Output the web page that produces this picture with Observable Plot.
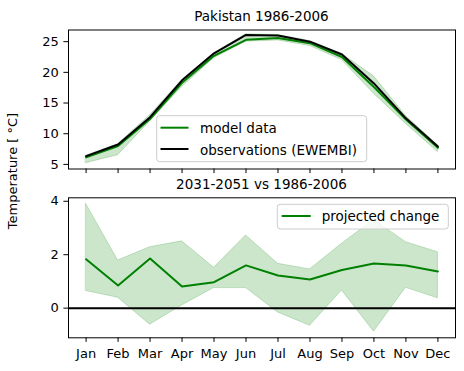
<!DOCTYPE html>
<html><head><meta charset="utf-8">
<script src="https://cdn.jsdelivr.net/npm/d3@7"></script>
<script src="https://cdn.jsdelivr.net/npm/@observablehq/plot@0.6"></script>
<style>
body{margin:0;background:#fff;}
#fig{position:relative;width:464px;height:371px;overflow:hidden;background:#fff;font-family:"DejaVu Sans",sans-serif;color:#000}
#fig > svg{display:block}
#overlay{position:absolute;left:0;top:0;pointer-events:none}
</style></head><body><div id="fig"></div>
<script>
const months = ["Jan","Feb","Mar","Apr","May","Jun","Jul","Aug","Sep","Oct","Nov","Dec"];
// top panel: Pakistan 1986-2006 (°C)
const obs      = [6.35, 8.25, 12.7, 18.7, 23.1, 26.1, 26.0, 25.0, 22.9, 18.2, 12.5, 7.9];
const model    = [6.15, 8.0, 12.4, 18.3, 22.7, 25.3, 25.6, 24.75, 22.5, 17.6, 12.3, 7.7];
const modelLo  = [5.2, 6.5, 12.0, 17.6, 22.3, 25.0, 25.2, 24.3, 22.0, 16.5, 11.6, 7.0];
const modelHi  = [6.4, 8.3, 13.0, 18.7, 23.1, 26.2, 26.1, 25.1, 23.0, 19.35, 12.9, 8.1];
// bottom panel: 2031-2051 vs 1986-2006
const change   = [1.83, 0.85, 1.86, 0.81, 0.97, 1.60, 1.22, 1.07, 1.43, 1.67, 1.60, 1.37];
const changeLo = [0.64, 0.39, -0.62, 0.10, 0.75, 0.75, -0.16, -0.66, 0.66, -0.88, 0.76, 0.37];
const changeHi = [3.90, 1.78, 2.28, 2.50, 1.51, 2.72, 1.66, 1.45, 2.41, 3.30, 2.47, 2.09];
const topTicks = [5, 10, 15, 20, 25];
const bottomTicks = [0, 2, 4];

const topData = months.map((m, i) => ({month: m, obs: obs[i], model: model[i], lo: modelLo[i], hi: modelHi[i]}));
const botData = months.map((m, i) => ({month: m, change: change[i], lo: changeLo[i], hi: changeHi[i]}));

const style = {fontSize: "13px", fontFamily: "DejaVu Sans", background: "transparent", color: "black", overflow: "visible"};

const p1 = Plot.plot({
  width: 464, height: 178,
  marginLeft: 68, marginRight: 9, marginTop: 29.5, marginBottom: 9.5,
  style,
  x: {type: "point", domain: months, padding: 0.55, round: false, tickSize: 4.6, tickFormat: () => "", label: null},
  y: {domain: [4.25, 26.9], ticks: topTicks, tickFormat: d => String(d), tickSize: 4.6, tickPadding: 5, label: null},
  marks: [
    Plot.areaY(topData, {x: "month", y1: "lo", y2: "hi", fill: "green", fillOpacity: 0.2, stroke: "green", strokeOpacity: 0.2}),
    Plot.lineY(topData, {x: "month", y: "model", stroke: "green", strokeWidth: 2}),
    Plot.lineY(topData, {x: "month", y: "obs", stroke: "black", strokeWidth: 2}),
    Plot.frame({stroke: "black", strokeWidth: 1})
  ]
});

const p2 = Plot.plot({
  width: 464, height: 193,
  marginLeft: 68, marginRight: 9, marginTop: 19.3, marginBottom: 33.7,
  style,
  x: {type: "point", domain: months, padding: 0.55, round: false, tickSize: 4.6, tickPadding: 6.6, label: null},
  y: {domain: [-1.11, 4.13], ticks: bottomTicks, tickFormat: d => String(d), tickSize: 4.6, tickPadding: 5, label: null},
  marks: [
    Plot.areaY(botData, {x: "month", y1: "lo", y2: "hi", fill: "green", fillOpacity: 0.2, stroke: "green", strokeOpacity: 0.2}),
    Plot.lineY(botData, {x: "month", y: "change", stroke: "green", strokeWidth: 2}),
    Plot.ruleY([0], {stroke: "black", strokeWidth: 2}),
    Plot.frame({stroke: "black", strokeWidth: 1})
  ]
});

const fig = document.getElementById("fig");
fig.appendChild(p1);
fig.appendChild(p2);

// titles, y label and legends
const NS = "http://www.w3.org/2000/svg";
const ov = document.createElementNS(NS, "svg");
ov.setAttribute("id", "overlay");
ov.setAttribute("width", 464);
ov.setAttribute("height", 371);
ov.setAttribute("font-family", "DejaVu Sans");
function el(tag, attrs, text) {
  const e = document.createElementNS(NS, tag);
  for (const k in attrs) e.setAttribute(k, attrs[k]);
  if (text != null) e.textContent = text;
  ov.appendChild(e);
  return e;
}
el("text", {x: 261.5, y: 21, "text-anchor": "middle", "font-size": 13.5}, "Pakistan 1986-2006");
el("text", {x: 261.5, y: 189.3, "text-anchor": "middle", "font-size": 13.5}, "2031-2051 vs 1986-2006");
el("text", {transform: "translate(16.5,171) rotate(-90)", "text-anchor": "middle", "font-size": 13}, "Temperature [ °C]");
// legend top
el("rect", {x: 156.7, y: 115.7, width: 210, height: 46, rx: 3, fill: "white", "fill-opacity": 0.8, stroke: "#cccccc", "stroke-width": 1});
el("line", {x1: 160.5, x2: 188.5, y1: 127.7, y2: 127.7, stroke: "green", "stroke-width": 2});
el("text", {x: 200, y: 133.3, "font-size": 13.5}, "model data");
el("line", {x1: 160.5, x2: 188.5, y1: 149, y2: 149, stroke: "black", "stroke-width": 2});
el("text", {x: 200, y: 154.5, "font-size": 13.5}, "observations (EWEMBI)");
// legend bottom
el("rect", {x: 277.3, y: 204.3, width: 171, height: 24.7, rx: 3, fill: "white", "fill-opacity": 0.8, stroke: "#cccccc", "stroke-width": 1});
el("line", {x1: 281.7, x2: 310.7, y1: 216, y2: 216, stroke: "green", "stroke-width": 2});
el("text", {x: 321.7, y: 221, "font-size": 13.5}, "projected change");
fig.appendChild(ov);
</script></body></html>
